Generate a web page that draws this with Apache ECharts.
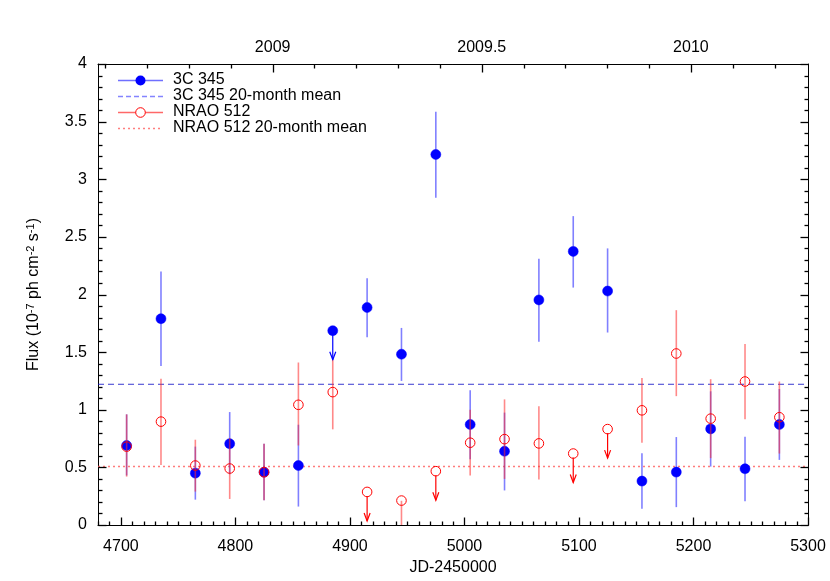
<!DOCTYPE html>
<html>
<head>
<meta charset="utf-8">
<script src="https://cdn.jsdelivr.net/npm/echarts@6/dist/echarts.min.js"></script>
</head>
<body style="margin:0">
<div id="c" style="width:830px;height:581px"></div>
<script>
// ---- data ----
var jd = [4705,4735,4765,4795,4825,4855,4885,4915,4945,4975,5005,5035,5065,5095,5125,5155,5185,5215,5245,5275];
var c345 = [0.69,1.79,0.45,0.705,0.458,0.516,1.686,1.887,1.482,3.215,0.872,0.64,1.953,2.374,2.03,0.381,0.459,0.834,0.488,0.872];
var c345Lo = [0.43,1.38,0.22,0.44,0.215,0.16,null,1.63,1.25,2.84,0.57,0.30,1.59,2.06,1.67,0.14,0.155,0.507,0.206,0.565];
var c345Hi = [0.96,2.20,0.68,0.98,0.705,0.87,null,2.14,1.71,3.585,1.17,0.975,2.31,2.68,2.40,0.622,0.763,1.16,0.766,1.18];
var c345UL = [0,0,0,0,0,0,1,0,0,0,0,0,0,0,0,0,0,0,0,0];
var nrao = [0.68,0.897,0.516,0.49,0.458,1.043,1.153,0.287,0.212,0.467,0.714,0.745,0.708,0.62,0.832,0.995,1.488,0.923,1.245,0.935];
var nraoLo = [0.42,0.52,0.29,0.226,0.215,0.69,0.83,null,-0.1,null,0.43,0.40,0.395,null,null,0.714,1.118,0.58,0.918,0.62];
var nraoHi = [0.96,1.27,0.74,0.755,0.705,1.41,1.43,null,0.21,null,1.0,1.09,1.03,null,null,1.276,1.864,1.265,1.57,1.245];
var nraoUL = [0,0,0,0,0,0,0,1,0,1,0,0,0,1,1,0,0,0,0,0];
var c345Mean = 1.221;
var nraoMean = 0.507;
var xMajor = [4700, 5300, 100];
var xMinorStep = 10;
var yearMinor = [2008.6, 2010.2, 0.1];
var yearMajor = [2009, 2010, 0.5];
var yMajorStep = 0.5, yMinorStep = 0.1;
var legendNames = ['3C 345','3C 345 20-month mean','NRAO 512','NRAO 512 20-month mean'];

var X0 = 4680, X1 = 5300, Y0 = 0, Y1 = 4;
function yearToJd(y){ return 4832.5 + (y - 2009) * 365.25; }

// ---- layout ----
var W = 830, H = 581, GL = 98, GR = 22, GT = 64, GB = 52;
var PW = W - GL - GR;
function px(j){ return GL + (j - X0) / (X1 - X0) * PW; }
function subGrid(a, b){ return {left: px(a), right: W - px(b), top: GT, bottom: GB}; }

var FONT = 'Liberation Sans, Arial, Helvetica, sans-serif';
var BLUE = '#0000ff', BLUE_BAR = 'rgba(50,50,255,0.62)';
var RED = '#ff0000', RED_BAR = 'rgba(255,40,40,0.55)';
var MAJ = 8, MIN = 4;

function mkData(v, lo, hi, ul){
  return jd.map(function(x,i){ return [x, v[i], lo[i]==null?NaN:lo[i], hi[i]==null?NaN:hi[i], ul[i]]; });
}

function near(a, step){ var r = a / step; return Math.abs(r - Math.round(r)) < 1e-6; }
var tickData = [];
for (var j = X0; j <= X1 + 1e-9; j += xMinorStep) {
  tickData.push([j, Y0, 0, near(j - xMajor[0], xMajor[2]) ? MAJ : MIN]);
}
for (var k = Math.round(yearMinor[0]*10); k <= Math.round(yearMinor[1]*10); k++) {
  var yr = k / 10;
  tickData.push([yearToJd(yr), Y1, 1, near(yr - yearMajor[0], yearMajor[2]) ? MAJ : MIN]);
}
for (var m = 0; m <= Math.round((Y1 - Y0) / yMinorStep); m++) {
  var yv = Y0 + m * yMinorStep;
  var L = near(yv, yMajorStep) ? MAJ : MIN;
  tickData.push([X0, yv, 2, L]);
  tickData.push([X1, yv, 3, L]);
}

function tickRenderer(params, api){
  var p = api.coord([api.value(0), api.value(1)]);
  var d = api.value(2), len = api.value(3);
  var x = Math.round(p[0]) + 0.5, y = Math.round(p[1]) + 0.5;
  var s = {x1:x, y1:y, x2:x, y2:y};
  if (d === 0) s.y2 = y - len;
  else if (d === 1) s.y2 = y + len;
  else if (d === 2) s.x2 = x + len;
  else s.x2 = x - len;
  return {type:'line', shape:s, style:{stroke:'#000', lineWidth:1.3}};
}

function renderer(filled, col, barCol){
  return function(params, api){
    var x = api.value(0), y = api.value(1), lo = api.value(2), hi = api.value(3), ul = api.value(4);
    var p = api.coord([x, y]);
    var children = [];
    if (ul) {
      var tip = p[1] + 29;
      children.push({type:'line', shape:{x1:p[0], y1:p[1]+4, x2:p[0], y2:tip}, style:{stroke: col, lineWidth:1.2}});
      children.push({type:'polyline', shape:{points:[[p[0]-3, tip-8],[p[0], tip],[p[0]+3, tip-8]]}, style:{stroke: col, fill:'none', lineWidth:1.2}});
    } else if (!isNaN(lo)) {
      var a = api.coord([x, hi]), b = api.coord([x, Math.max(lo, Y0)]);
      children.push({type:'line', shape:{x1:p[0], y1:a[1], x2:p[0], y2:b[1]}, style:{stroke: barCol, lineWidth:1.6}});
    }
    children.push({type:'circle', shape:{cx:p[0], cy:p[1], r: filled?5:4.8},
      style: filled ? {fill: col, stroke: col, lineWidth: 0.5} : {fill: 'none', stroke: col, lineWidth: 1}});
    return {type:'group', children: children};
  };
}

var chart = echarts.init(document.getElementById('c'));
var axisFont = {fontFamily: FONT, fontSize: 16, color: '#000'};
function LS(){ return {color:'#000', width:1}; }

var lx1 = 118, lx2 = 163, ltx = 173, ly = [80, 96, 112, 128];
var legendGraphics = [];
var legendStyles = [
  {stroke:'rgba(50,50,255,0.7)', lineDash:null, marker:'filled', mcol: BLUE},
  {stroke:'rgba(50,50,255,0.6)', lineDash:[5,3], marker:null},
  {stroke:'rgba(255,40,40,0.7)', lineDash:null, marker:'open', mcol: RED},
  {stroke:'rgba(255,40,40,0.6)', lineDash:[2,3], marker:null}
];
legendNames.forEach(function(n, i){
  var s = legendStyles[i];
  legendGraphics.push({type:'line', shape:{x1:lx1, y1:ly[i]+0.5, x2:lx2, y2:ly[i]+0.5}, style:{stroke:s.stroke, lineWidth:1.4, lineDash:s.lineDash}});
  if (s.marker === 'filled') legendGraphics.push({type:'circle', shape:{cx:(lx1+lx2)/2, cy:ly[i]+0.5, r:5}, style:{fill:s.mcol}});
  if (s.marker === 'open') legendGraphics.push({type:'circle', shape:{cx:(lx1+lx2)/2, cy:ly[i]+0.5, r:4.8}, style:{fill:'#fff', stroke:s.mcol, lineWidth:1}});
  legendGraphics.push({type:'text', x:ltx, y:ly[i], style:{text:n, font:'16px ' + FONT, fill:'#000', verticalAlign:'middle'}});
});

function hiddenY(g){ return {type:'value', gridIndex:g, min:0, max:1, show:false}; }

chart.setOption({
  animation: false,
  grid: [
    {left: GL, right: GR, top: GT, bottom: GB},
    subGrid(xMajor[0], xMajor[1]),
    subGrid(yearToJd(yearMajor[0]), yearToJd(yearMajor[1]))
  ],
  xAxis: [
    {type:'value', gridIndex:0, position:'bottom', min:X0, max:X1,
     name:'JD-2450000', nameLocation:'middle', nameGap:35, nameTextStyle: axisFont,
     axisLine:{show:true, onZero:false, lineStyle:LS()},
     axisTick:{show:false}, axisLabel:{show:false}, splitLine:{show:false}},
    {type:'value', gridIndex:0, position:'top', min:X0, max:X1,
     axisLine:{show:true, onZero:false, lineStyle:LS()},
     axisTick:{show:false}, axisLabel:{show:false}, splitLine:{show:false}},
    {type:'value', gridIndex:1, position:'bottom', min:xMajor[0], max:xMajor[1], interval:xMajor[2],
     axisLine:{show:false, onZero:false}, axisTick:{show:false},
     axisLabel:{show:true, margin:10, fontFamily:FONT, fontSize:16, color:'#000', formatter:function(v){return String(v);}},
     splitLine:{show:false}},
    {type:'value', gridIndex:2, position:'top', min:yearMajor[0], max:yearMajor[1], interval:yearMajor[2],
     axisLine:{show:false, onZero:false}, axisTick:{show:false},
     axisLabel:{show:true, margin:8, fontFamily:FONT, fontSize:16, color:'#000', formatter:function(v){return String(v);}},
     splitLine:{show:false}}
  ],
  yAxis: [
    {type:'value', gridIndex:0, position:'left', min:Y0, max:Y1, interval:yMajorStep,
     name:'Flux (10{sup|-7} ph cm{sup|-2} s{sup|-1})', nameLocation:'middle', nameGap:56, nameRotate:90,
     nameTextStyle:{fontFamily:FONT, fontSize:16, color:'#000', rich:{sup:{fontFamily:FONT, fontSize:11, color:'#000', verticalAlign:'top', padding:[0,0,6,0]}}},
     axisLine:{show:true, onZero:false, lineStyle:LS()},
     axisTick:{show:false}, minorTick:{show:false},
     axisLabel:{show:true, margin:11, fontFamily:FONT, fontSize:16, color:'#000'},
     splitLine:{show:false}},
    {type:'value', gridIndex:0, position:'right', min:Y0, max:Y1, interval:yMajorStep,
     axisLine:{show:true, onZero:false, lineStyle:LS()},
     axisTick:{show:false}, axisLabel:{show:false}, splitLine:{show:false}},
    hiddenY(1), hiddenY(2)
  ],
  graphic: legendGraphics,
  series: [
    {type:'line', xAxisIndex:0, yAxisIndex:0,
     data:[[X0, c345Mean],[X1, c345Mean]], showSymbol:false,
     lineStyle:{color:'rgba(20,20,200,0.85)', width:1, type:[6,4]}, z:1},
    {type:'line', xAxisIndex:0, yAxisIndex:0,
     data:[[X0, nraoMean],[X1, nraoMean]], showSymbol:false,
     lineStyle:{color:'rgba(255,90,90,0.8)', width:1.4, type:[2,3]}, z:1},
    {type:'custom', xAxisIndex:0, yAxisIndex:0, clip:false,
     renderItem: renderer(true, BLUE, BLUE_BAR), data: mkData(c345, c345Lo, c345Hi, c345UL),
     encode:{x:0, y:1}, z:3},
    {type:'custom', xAxisIndex:0, yAxisIndex:0, clip:false,
     renderItem: renderer(false, RED, RED_BAR), data: mkData(nrao, nraoLo, nraoHi, nraoUL),
     encode:{x:0, y:1}, z:4},
    {type:'custom', xAxisIndex:0, yAxisIndex:0, clip:false,
     renderItem: tickRenderer, data: tickData, encode:{x:0, y:1}, z:5}
  ]
});
</script>
</body>
</html>
